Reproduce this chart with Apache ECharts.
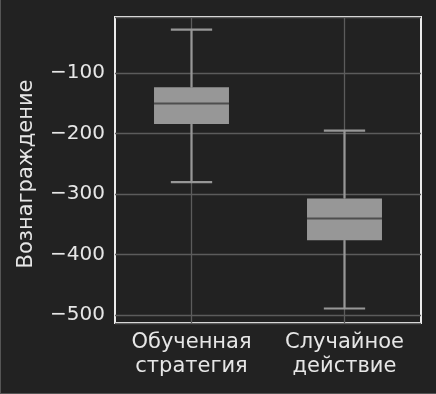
<!DOCTYPE html>
<html>
<head>
<meta charset="utf-8">
<script src="https://cdn.jsdelivr.net/npm/echarts@6/dist/echarts.min.js"></script>
<style>
html,body{margin:0;padding:0;background:#222222;}
#chart{width:436px;height:394px;}
</style>
</head>
<body>
<div id="chart"></div>
<script>
// Data
const categories = ['Обученная\nстратегия', 'Случайное\nдействие'];
const whiskerLow = [-280, -489];
const q1 = [-184, -376];
const median = [-150, -340];
const q3 = [-123, -307];
const whiskerHigh = [-28, -195];
const yTicks = [-500, -400, -300, -200, -100];

const seriesData = categories.map((c, i) => [i, whiskerLow[i], q1[i], median[i], q3[i], whiskerHigh[i]]);

const FONT = 'DejaVu Sans';
const TEXT = '#e6e6e6';
const BOX = '#979797';
const MED = '#4e4e4e';
const GRIDC = '#5c5c5c';

function renderItem(params, api) {
  const idx = api.value(0);
  const cs = params.coordSys;
  const band = api.size([1, 0])[0];
  const boxHalf = band * 0.245;
  const capHalf = band * 0.135;
  const pLow = api.coord([idx, api.value(1)]);
  const pQ1 = api.coord([idx, api.value(2)]);
  const pMed = api.coord([idx, api.value(3)]);
  const pQ3 = api.coord([idx, api.value(4)]);
  const pHigh = api.coord([idx, api.value(5)]);
  const x = pMed[0];
  const lineStyle = { stroke: BOX, lineWidth: 2.2 };
  return {
    type: 'group',
    children: [
      { type: 'line', shape: { x1: x, y1: cs.y, x2: x, y2: cs.y + cs.height }, style: { stroke: GRIDC, lineWidth: 1.3 } },
      { type: 'line', shape: { x1: x, y1: pHigh[1], x2: x, y2: pQ3[1] }, style: lineStyle },
      { type: 'line', shape: { x1: x, y1: pQ1[1], x2: x, y2: pLow[1] }, style: lineStyle },
      { type: 'line', shape: { x1: x - capHalf, y1: pHigh[1], x2: x + capHalf, y2: pHigh[1] }, style: lineStyle },
      { type: 'line', shape: { x1: x - capHalf, y1: pLow[1], x2: x + capHalf, y2: pLow[1] }, style: lineStyle },
      { type: 'rect', shape: { x: x - boxHalf, y: pQ3[1], width: boxHalf * 2, height: pQ1[1] - pQ3[1] }, style: { fill: BOX, stroke: null } },
      { type: 'line', shape: { x1: x - boxHalf, y1: pMed[1], x2: x + boxHalf, y2: pMed[1] }, style: { stroke: MED, lineWidth: 2 } }
    ]
  };
}

const chart = echarts.init(document.getElementById('chart'), null, { renderer: 'canvas' });
chart.setOption({
  backgroundColor: '#222222',
  animation: false,
  graphic: [
    { type: 'line', shape: { x1: 0.5, y1: 0, x2: 0.5, y2: 394 }, style: { stroke: '#555555', lineWidth: 1 } },
    { type: 'line', shape: { x1: 0, y1: 393.5, x2: 436, y2: 393.5 }, style: { stroke: '#555555', lineWidth: 1 } }
  ],
  grid: { left: 115, right: 15, top: 17, bottom: 71, show: true, borderColor: '#ffffff', borderWidth: 1.8, backgroundColor: 'transparent' },
  xAxis: {
    type: 'category',
    data: categories,
    boundaryGap: true,
    axisLine: { show: false },
    axisTick: { show: false },
    splitLine: { show: false },
    axisLabel: { color: TEXT, fontFamily: FONT, fontSize: 21, lineHeight: 24, margin: 8, interval: 0 }
  },
  yAxis: {
    type: 'value',
    min: -513,
    max: -7,
    splitNumber: 5,
    name: 'Вознаграждение',
    nameLocation: 'middle',
    nameGap: 78,
    nameTextStyle: { color: TEXT, fontFamily: FONT, fontSize: 21, padding: [0, 0, 0, -8] },
    axisLine: { show: false },
    axisTick: { show: false },
    splitLine: { show: true, lineStyle: { color: GRIDC, width: 1.3 } },
    axisLabel: {
      color: TEXT, fontFamily: FONT, fontSize: 20, margin: 10,
      showMinLabel: false, showMaxLabel: false,
      formatter: v => yTicks.indexOf(v) >= 0 ? (v < 0 ? '\u2212' : '') + Math.abs(v) : ''
    }
  },
  series: [{
    type: 'custom',
    renderItem: renderItem,
    encode: { x: 0, y: [1, 2, 3, 4, 5] },
    data: seriesData,
    z: 2
  }]
});
</script>
</body>
</html>
